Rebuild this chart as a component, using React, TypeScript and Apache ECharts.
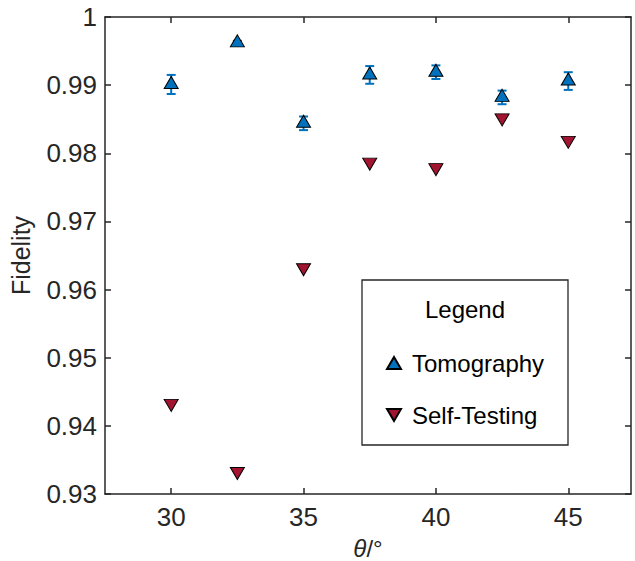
import React, { useEffect, useRef } from "react";
import * as echarts from "echarts";

const theta = [30, 32.5, 35, 37.5, 40, 42.5, 45];
const tomography = [0.9901, 0.9962, 0.9844, 0.9915, 0.9919, 0.9882, 0.9906];
const tomographyErr = [0.0014, 0.0003, 0.001, 0.0013, 0.001, 0.001, 0.0013];
const selfTesting = [0.9433, 0.9333, 0.9632, 0.9787, 0.9779, 0.9852, 0.9819];
const xTicks = [30, 35, 40, 45];
const seriesNames = ["Tomography", "Self-Testing"];

const FONT = "'Liberation Sans', Arial, Helvetica, sans-serif";
const AXIS = "#262626";
const BLUE = "#0072BD";
const RED = "#A2142F";

export default function App() {
  const ref = useRef<HTMLDivElement>(null);
  useEffect(() => {
    if (!ref.current) return;
    const chart = echarts.init(ref.current, undefined, { renderer: "svg" });
    const axisBase = {
      type: "value" as const,
      axisLine: { show: true, onZero: false, lineStyle: { color: AXIS, width: 1.5 } },
      axisTick: { show: true, inside: true, length: 6, lineStyle: { color: AXIS, width: 1.5 } },
      splitLine: { show: false },
    };
    const option: any = {
      animation: false,
      grid: { left: 105, top: 17, right: 4, bottom: 67, outerBoundsMode: "none" },
      xAxis: [
        {
          ...axisBase,
          min: 27.5,
          max: 47.37,
          axisTick: { ...axisBase.axisTick, customValues: xTicks },
          axisLabel: {
            customValues: xTicks,
            color: AXIS,
            fontSize: 26,
            fontFamily: FONT,
            margin: 10,
          },
          name: "{i|θ}/°",
          nameLocation: "middle",
          nameGap: 44,
          nameTextStyle: {
            color: AXIS,
            fontSize: 24,
            lineHeight: 20,
            fontFamily: FONT,
            rich: { i: { fontStyle: "italic", fontSize: 24, lineHeight: 20, fontFamily: FONT, color: AXIS } },
          },
        },
        {
          ...axisBase,
          position: "top",
          min: 27.5,
          max: 47.37,
          axisTick: { ...axisBase.axisTick, customValues: xTicks },
          axisLabel: { show: false },
        },
      ],
      yAxis: [
        {
          ...axisBase,
          min: 0.93,
          max: 1,
          interval: 0.01,
          axisLabel: {
            color: AXIS,
            fontSize: 26,
            fontFamily: FONT,
            margin: 8,
            formatter: (v: number) => (Math.abs(v - 1) < 1e-9 ? "1" : v.toFixed(2)),
          },
          name: "Fidelity",
          nameLocation: "middle",
          nameGap: 72,
          nameTextStyle: { color: AXIS, fontSize: 25, fontFamily: FONT },
        },
        {
          ...axisBase,
          position: "right",
          min: 0.93,
          max: 1,
          interval: 0.01,
          axisLabel: { show: false },
        },
      ],
      legend: {
        orient: "vertical",
        left: 381,
        top: 344,
        itemWidth: 14,
        itemHeight: 12,
        itemGap: 24,
        data: [
          { name: seriesNames[0], icon: "path://M7,0 L14,12 L0,12 Z" },
          { name: seriesNames[1], icon: "path://M0,0 L14,0 L7,12 Z" },
        ],
        textStyle: {
          color: "#000",
          fontSize: 24,
          fontFamily: FONT,
          lineHeight: 28,
          padding: [0, 0, 0, 6],
        },
      },
      graphic: [
        {
          type: "rect",
          z: 1,
          shape: { x: 362, y: 280, width: 206, height: 165 },
          style: { fill: "#fff", stroke: AXIS, lineWidth: 1.3 },
        },
        {
          type: "text",
          z: 2,
          x: 465,
          y: 309,
          style: {
            text: "Legend",
            fontSize: 24,
            fontFamily: FONT,
            fill: "#000",
            align: "center",
            verticalAlign: "middle",
          },
        },
      ],
      series: [
        {
          type: "custom",
          name: "errbar",
          z: 1,
          silent: true,
          data: theta.map((t, i) => [t, tomography[i], tomographyErr[i]]),
          renderItem: (params: any, api: any) => {
            const x = api.value(0);
            const y = api.value(1);
            const e = api.value(2);
            const top = api.coord([x, y + e]);
            const bot = api.coord([x, y - e]);
            const hw = 4.5;
            const st = { stroke: BLUE, lineWidth: 2 };
            return {
              type: "group",
              children: [
                { type: "line", shape: { x1: top[0], y1: top[1], x2: bot[0], y2: bot[1] }, style: st },
                { type: "line", shape: { x1: top[0] - hw, y1: top[1], x2: top[0] + hw, y2: top[1] }, style: st },
                { type: "line", shape: { x1: bot[0] - hw, y1: bot[1], x2: bot[0] + hw, y2: bot[1] }, style: st },
              ],
            };
          },
        },
        {
          type: "scatter",
          name: seriesNames[0],
          z: 3,
          symbol: "triangle",
          symbolSize: [14, 12],
          symbolOffset: [0, -2],
          itemStyle: { color: BLUE, borderColor: "#000", borderWidth: 1, opacity: 1 },
          data: theta.map((t, i) => [t, tomography[i]]),
        },
        {
          type: "scatter",
          name: seriesNames[1],
          z: 3,
          symbol: "triangle",
          symbolRotate: 180,
          symbolSize: [14, 12],
          symbolOffset: [0, 2],
          itemStyle: { color: RED, borderColor: "#000", borderWidth: 1, opacity: 1 },
          data: theta.map((t, i) => [t, selfTesting[i]]),
        },
      ],
    };
    chart.setOption(option);
    return () => chart.dispose();
  }, []);
  return <div ref={ref} style={{ width: 635, height: 561, position: "absolute", left: 0, top: 0 }} />;
}
